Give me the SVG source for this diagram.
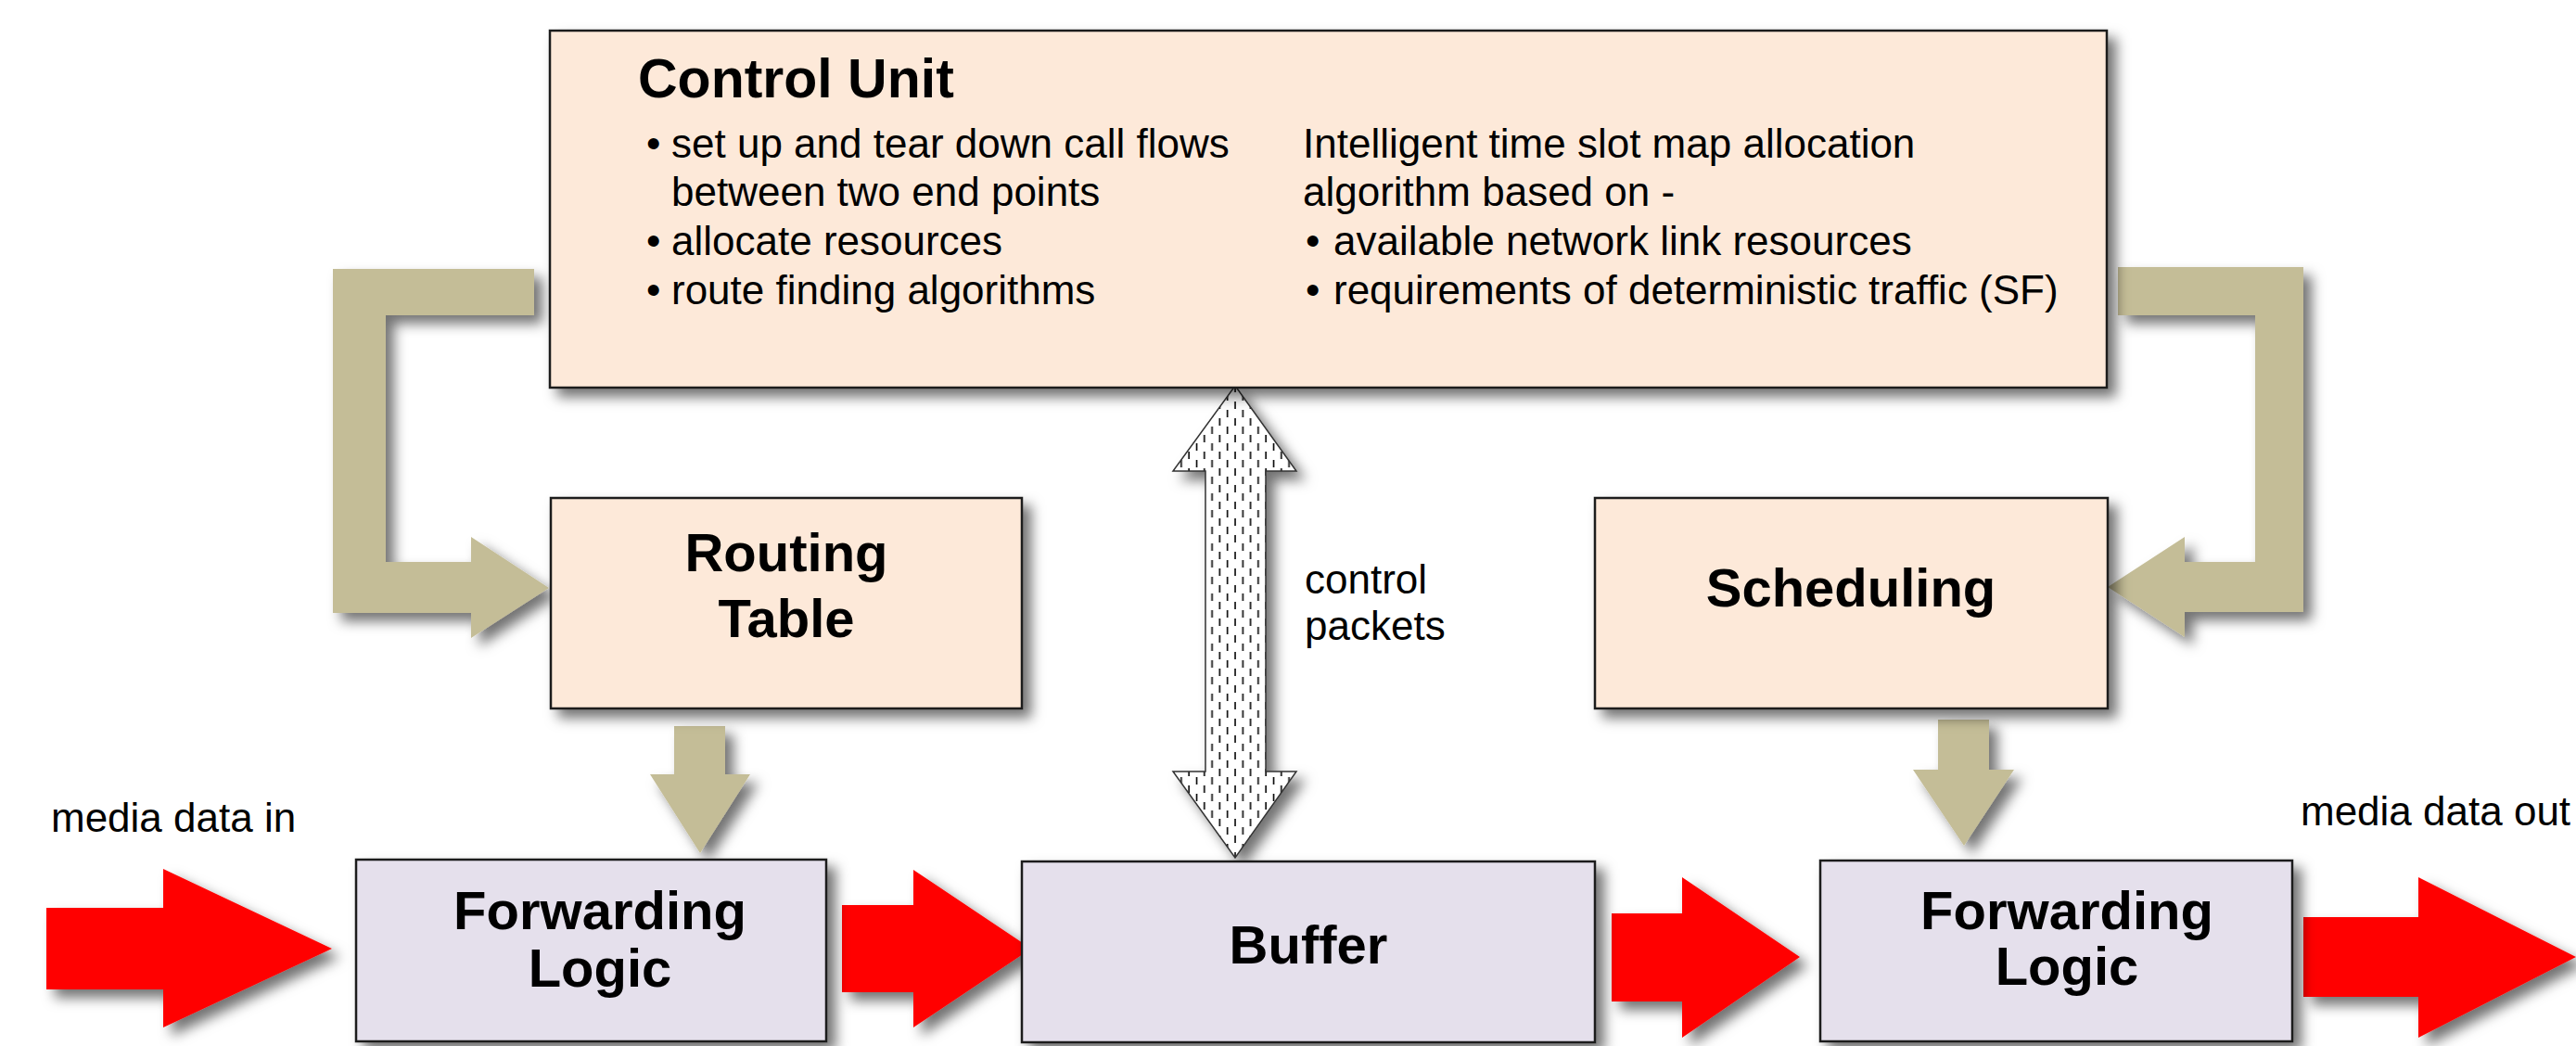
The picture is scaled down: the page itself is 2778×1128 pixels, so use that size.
<svg xmlns="http://www.w3.org/2000/svg" width="2778" height="1128" viewBox="0 0 2778 1128">
<defs>
<filter id="sh" x="-20%" y="-20%" width="150%" height="150%">
<feDropShadow dx="9" dy="9" stdDeviation="7" flood-color="#000" flood-opacity="0.55"/>
</filter>
<pattern id="dash" width="16.6" height="18" patternUnits="userSpaceOnUse">
<rect width="16.6" height="18" fill="#fff"/>
<line x1="4" y1="1" x2="4" y2="9" stroke="#000" stroke-width="1.6"/>
<line x1="12.3" y1="10" x2="12.3" y2="18" stroke="#000" stroke-width="1.6"/>
</pattern>
<style>
.peach{fill:#FDE9D9;stroke:#1a1a1a;stroke-width:2.5}
.lav{fill:#E5E0EC;stroke:#1a1a1a;stroke-width:2.5}
.tan{fill:#C4BD97}
.red{fill:#FF0000}
.t{font-family:"Liberation Sans",Arial,sans-serif;fill:#000}
.b{font-family:"Liberation Sans",Arial,sans-serif;font-weight:bold;fill:#000;text-anchor:middle;font-size:58px}
.s{font-size:44px}
</style>
</defs>
<rect width="2778" height="1128" fill="#fff"/>

<g id="connectors">
<polygon class="tan" filter="url(#sh)" points="359,290 576,290 576,340 416,340 416,606 508,606 508,579 592,634 508,688 508,661 359,661"/>
<polygon class="tan" filter="url(#sh)" points="2284,288 2484,288 2484,660 2356,660 2356,687 2273,633 2356,579 2356,606 2432,606 2432,340 2284,340"/>
<polygon class="tan" filter="url(#sh)" points="727,783 782,783 782,835 809,835 755,920 701,835 727,835"/>
<polygon class="tan" filter="url(#sh)" points="2090,776 2145,776 2145,830 2172,830 2118,912 2063,830 2090,830"/>
<polygon filter="url(#sh)" fill="url(#dash)" stroke="#333" stroke-width="1.5" points="1332,416 1398,508 1365,508 1365,832 1398,832 1332,925 1265,832 1300,832 1300,508 1265,508"/>
<polygon class="red" filter="url(#sh)" points="50,979 176,979 176,937 358,1023 176,1108 176,1067 50,1067"/>
<polygon class="red" filter="url(#sh)" points="908,976 985,976 985,938 1112,1023 985,1108 985,1070 908,1070"/>
<polygon class="red" filter="url(#sh)" points="1738,985 1814,985 1814,946 1941,1032 1814,1119 1814,1080 1738,1080"/>
<polygon class="red" filter="url(#sh)" points="2484,989 2608,989 2608,946 2778,1032 2608,1119 2608,1075 2484,1075"/>
<text class="t s" x="1407" y="640">control</text>
<text class="t s" x="1407" y="690">packets</text>
</g>

<g id="control-unit">
<rect class="peach" filter="url(#sh)" x="593" y="33" width="1679" height="385"/>
<text class="t" x="688" y="105" font-size="59" font-weight="bold">Control Unit</text>
<g class="t s">
<text x="697" y="170">•</text><text x="724" y="170">set up and tear down call flows</text>
<text x="724" y="222">between two end points</text>
<text x="697" y="275">•</text><text x="724" y="275">allocate resources</text>
<text x="697" y="328">•</text><text x="724" y="328">route finding algorithms</text>
<text x="1405" y="170">Intelligent time slot map allocation</text>
<text x="1405" y="222">algorithm based on -</text>
<text x="1408" y="275">•</text><text x="1438" y="275">available network link resources</text>
<text x="1408" y="328">•</text><text x="1438" y="328">requirements of deterministic traffic (SF)</text>
</g>
</g>

<g id="routing-table">
<rect class="peach" filter="url(#sh)" x="594" y="537" width="508" height="227"/>
<text class="b" x="848" y="616">Routing</text>
<text class="b" x="848" y="687">Table</text>
</g>

<g id="scheduling">
<rect class="peach" filter="url(#sh)" x="1720" y="537" width="553" height="227"/>
<text class="b" x="1996" y="654">Scheduling</text>
</g>

<g id="forwarding-logic-in">
<rect class="lav" filter="url(#sh)" x="384" y="927" width="507" height="196"/>
<text class="b" x="647" y="1002">Forwarding</text>
<text class="b" x="647" y="1064">Logic</text>
</g>

<g id="buffer">
<rect class="lav" filter="url(#sh)" x="1102" y="929" width="618" height="195"/>
<text class="b" x="1411" y="1039">Buffer</text>
</g>

<g id="forwarding-logic-out">
<rect class="lav" filter="url(#sh)" x="1963" y="928" width="509" height="195"/>
<text class="b" x="2229" y="1002">Forwarding</text>
<text class="b" x="2229" y="1062">Logic</text>
</g>

<text class="t s" x="55" y="897">media data in</text>
<text class="t s" x="2481" y="890">media data out</text>
</svg>
